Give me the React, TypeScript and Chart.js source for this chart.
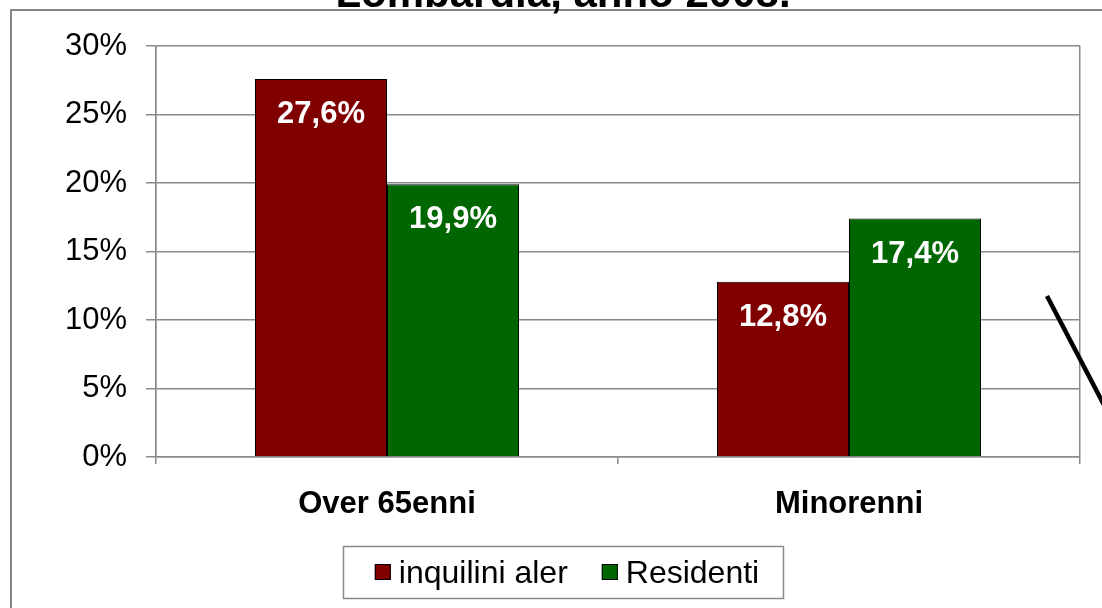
import React, { useEffect, useRef } from 'react';
import { Chart, registerables } from 'chart.js';

Chart.register(...registerables);

const titleText = 'Lombardia, anno 2008.';
const categories = ['Over 65enni', 'Minorenni'];
const seriesNames = ['inquilini aler', 'Residenti'];
const inquiliniAler = [27.6, 12.8];
const residenti = [19.9, 17.4];
const seriesColors = ['#800000', '#006600'];
const yMin = 0;
const yMax = 30;
const yStep = 5;

const FONT = '"Liberation Sans", Arial, sans-serif';
const GRID = '#8a8a8a';

const fmt = (v: number) => v.toFixed(1).replace('.', ',') + '%';

const decorations = {
  id: 'decorations',
  beforeDraw(chart: any) {
    const { ctx, width, height } = chart;
    ctx.save();
    ctx.fillStyle = '#ffffff';
    ctx.fillRect(0, 0, width, height);
    // outer frame
    ctx.strokeStyle = '#868686';
    ctx.lineWidth = 2;
    ctx.beginPath();
    ctx.moveTo(11, height);
    ctx.lineTo(11, 10);
    ctx.lineTo(width, 10);
    ctx.stroke();
    // title
    ctx.fillStyle = '#000000';
    ctx.font = `bold 42px ${FONT}`;
    ctx.textAlign = 'center';
    ctx.textBaseline = 'alphabetic';
    ctx.fillText(titleText, 563, 7);
    ctx.restore();
  },
  afterDatasetsDraw(chart: any) {
    const { ctx } = chart;
    ctx.save();
    ctx.fillStyle = '#ffffff';
    ctx.font = `bold 31px ${FONT}`;
    ctx.textAlign = 'center';
    ctx.textBaseline = 'alphabetic';
    chart.data.datasets.forEach((ds: any, di: number) => {
      const meta = chart.getDatasetMeta(di);
      meta.data.forEach((el: any, i: number) => {
        ctx.fillText(fmt(ds.data[i]), el.x, el.y + 44);
      });
    });
    ctx.restore();
  },
  afterDraw(chart: any) {
    const { ctx } = chart;
    ctx.save();
    // legend
    ctx.font = `32px ${FONT}`;
    const box = 16;
    const gap = 8;
    const itemGap = 34;
    const widths = chart.data.datasets.map((ds: any) => ctx.measureText(ds.label).width);
    const total = widths.reduce((a: number, w: number) => a + box + gap + w, 0) + itemGap * (widths.length - 1);
    const cx = 567;
    ctx.strokeStyle = GRID;
    ctx.lineWidth = 1.5;
    ctx.strokeRect(343.5, 546.5, 440, 52);
    let x = cx - total / 2;
    chart.data.datasets.forEach((ds: any, i: number) => {
      ctx.fillStyle = ds.backgroundColor;
      ctx.fillRect(x, 564, box, box);
      ctx.strokeStyle = '#000000';
      ctx.lineWidth = 1;
      ctx.strokeRect(x + 0.5, 564.5, box - 1, box - 1);
      ctx.fillStyle = '#000000';
      ctx.textAlign = 'left';
      ctx.textBaseline = 'alphabetic';
      ctx.fillText(ds.label, x + box + gap, 583);
      x += box + gap + widths[i] + itemGap;
    });
    // stray diagonal stroke
    ctx.strokeStyle = '#000000';
    ctx.lineWidth = 4.5;
    ctx.beginPath();
    ctx.moveTo(1047, 296);
    ctx.lineTo(1104, 405);
    ctx.stroke();
    ctx.restore();
  },
};

export default function App() {
  const ref = useRef<HTMLCanvasElement | null>(null);
  useEffect(() => {
    if (!ref.current) return;
    const chart = new Chart(ref.current, {
      type: 'bar',
      data: {
        labels: categories,
        datasets: [
          {
            label: seriesNames[0],
            data: inquiliniAler,
            backgroundColor: seriesColors[0],
            borderColor: '#000000',
            borderWidth: 1,
            categoryPercentage: 0.5714,
            barPercentage: 1,
          },
          {
            label: seriesNames[1],
            data: residenti,
            backgroundColor: seriesColors[1],
            borderColor: '#000000',
            borderWidth: 1,
            categoryPercentage: 0.5714,
            barPercentage: 1,
          },
        ],
      },
      options: {
        responsive: false,
        animation: false,
        devicePixelRatio: 1,
        layout: { padding: { top: 46, right: 22, bottom: 0, left: 0 } },
        plugins: {
          legend: { display: false },
          title: { display: false },
          tooltip: { enabled: false },
        },
        scales: {
          x: {
            afterFit: (s: any) => {
              s.height = 151;
            },
            grid: {
              offset: true,
              color: (c: any) => (c.index === 1 ? 'rgba(0,0,0,0)' : GRID),
              tickColor: GRID,
              tickLength: 7,
              lineWidth: 1.5,
            },
            border: { display: true, color: GRID, width: 1.5 },
            ticks: {
              color: '#000000',
              font: { family: FONT, size: 31, weight: 'bold' },
              padding: 22,
            },
          },
          y: {
            min: yMin,
            max: yMax,
            afterFit: (s: any) => {
              s.width = 156;
            },
            grid: { color: GRID, tickColor: GRID, tickLength: 10, lineWidth: 1.5 },
            border: { display: true, color: GRID, width: 1.5 },
            ticks: {
              stepSize: yStep,
              color: '#000000',
              font: { family: FONT, size: 31 },
              padding: 19,
              callback: (v: any) => v + '%',
            },
          },
        },
      },
      plugins: [decorations],
    });
    return () => chart.destroy();
  }, []);
  return (
    <div style={{ position: 'absolute', left: 0, top: 0, width: 1102, height: 608 }}>
      <canvas ref={ref} width={1102} height={608} style={{ width: 1102, height: 608, display: 'block' }} />
    </div>
  );
}
